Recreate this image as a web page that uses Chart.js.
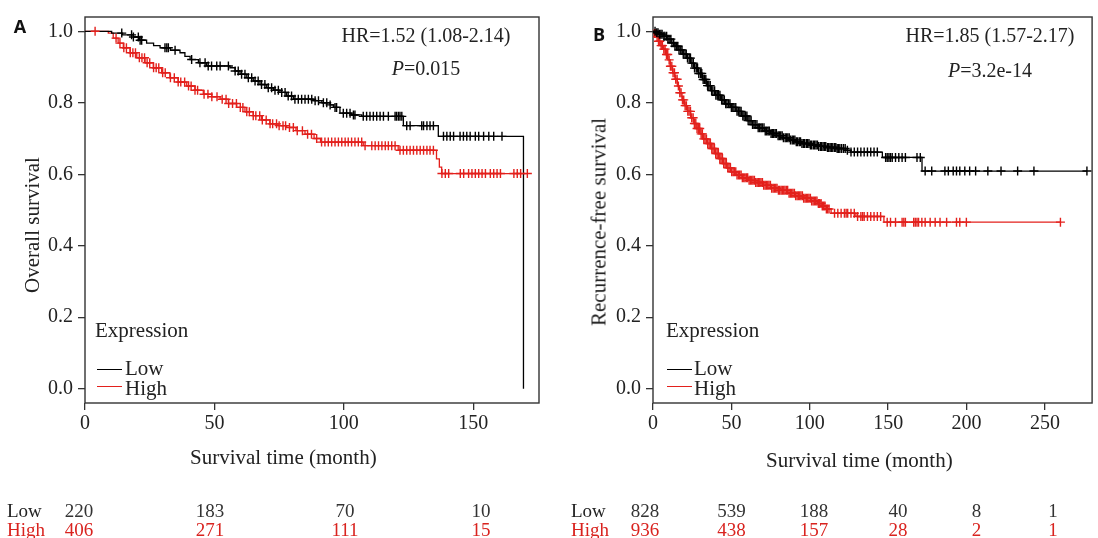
<!DOCTYPE html>
<html lang="en">
<head>
<meta charset="UTF-8">
<title>Kaplan-Meier curves</title>
<script src="https://cdn.jsdelivr.net/npm/chart.js"></script>
<style>
  body { margin: 0; background: #fff; }
  .wrap { position: relative; width: 1098px; height: 538px; overflow: hidden;
          font-family: 'Liberation Serif', 'Times New Roman', serif; color: #222; }
  canvas { position: absolute; top: 0; }
  #chartA { left: 0; }
  #chartB { left: 549px; }
  .t { position: absolute; white-space: nowrap; line-height: 1; font-size: 20px; }
  .mid { transform: translate(-50%, -50%); }
  .left { transform: translateY(-50%); }
  .panel { font-family: 'Open Sans', sans-serif; font-weight: 700; font-size: 18px; color: #111; }
  .ytitle { font-size: 21px; transform: translate(-50%, -50%) rotate(-90deg); }
  .big { font-size: 21px; }
  .risk { font-size: 19px; }
  .riskNum { font-size: 19px; color: #333; }
  .red { color: #d9231f; }
  .lg { position: absolute; height: 0; width: 25px; border-top: 1.3px solid #000; }
</style>
</head>
<body>
<div class="wrap" id="wrap">
  <canvas id="chartA" width="549" height="538"></canvas>
  <canvas id="chartB" width="549" height="538"></canvas>
</div>
<script>
  const yTicks = [0, 0.2, 0.4, 0.6, 0.8, 1.0];
  const xTicksA = [0, 50, 100, 150];
  const xTicksB = [0, 50, 100, 150, 200, 250];

  // A: overall survival, step times (month) and survival after each step
  const lowATime = [0, 10.3, 14.5, 18.7, 21, 23.8, 26.5, 29, 33, 36.7, 38.6, 40.6, 43.8, 47, 56, 58, 59.9, 62.5, 65, 67.6, 70.2, 72.8, 75.3, 77.9, 80.5, 88.2, 91.5, 94.7, 96, 98.5, 103, 106.9, 123, 136.5, 169.4];
  const lowASurv = [1, 0.995, 0.99, 0.984, 0.975, 0.967, 0.96, 0.954, 0.947, 0.94, 0.93, 0.921, 0.912, 0.903, 0.898, 0.889, 0.88, 0.87, 0.861, 0.851, 0.842, 0.835, 0.829, 0.819, 0.81, 0.806, 0.8, 0.794, 0.787, 0.771, 0.766, 0.762, 0.736, 0.706, 0];
  const highATime = [0, 9, 10.9, 12.8, 14.8, 17.4, 20, 23.2, 26.4, 29.6, 32.8, 36, 39.3, 42.5, 45.7, 49, 52.2, 55.4, 58.6, 61.8, 65, 68.2, 71.4, 74.6, 77.9, 81.5, 85, 88.5, 91, 107.5, 121, 135.8, 136.9, 137.8, 170.9];
  const highASurv = [1, 0.995, 0.981, 0.967, 0.954, 0.94, 0.926, 0.912, 0.898, 0.884, 0.87, 0.858, 0.847, 0.835, 0.824, 0.817, 0.81, 0.798, 0.787, 0.775, 0.764, 0.752, 0.741, 0.736, 0.731, 0.722, 0.712, 0.7, 0.69, 0.68, 0.667, 0.643, 0.62, 0.602, 0.602];
  const lowACensor = [14.2, 18, 18.7, 20.6, 21.3, 21.9, 30.9, 31.6, 32.2, 34.8, 41.2, 44.4, 46.4, 47.6, 48.9, 50.9, 52.2, 55.4, 58, 59.2, 60.5, 61.8, 63.1, 64.4, 65.7, 66.9, 68.2, 69.5, 70.8, 72.1, 73.4, 74.7, 76, 77.3, 78.5, 79.8, 81.1, 82.4, 83.7, 85, 86.3, 87.6, 88.9, 90.2, 92.1, 93.4, 94.7, 96.6, 97.2, 99.8, 101.1, 102.4, 103.7, 104.3, 107.5, 108.8, 110.1, 111.4, 112.7, 114, 115.3, 117.2, 119.8, 120.4, 121.1, 121.7, 122.4, 124.3, 125.6, 130.1, 130.8, 132.1, 133.3, 134.6, 138.5, 139.8, 141.1, 142.4, 144.9, 146.2, 147.5, 148.8, 150.8, 152.1, 154, 156, 157.9, 161.1];
  const highACensor = [3.9, 12, 13.5, 15, 16, 17.5, 18.5, 19.5, 21, 22, 23, 24, 25, 26.5, 27.5, 28.5, 30, 31, 33, 34.5, 36, 37, 38.5, 40, 41, 42.5, 43.5, 46, 47.5, 49, 51, 53, 54.5, 55.5, 57, 58.5, 60, 61, 62.5, 63.5, 65, 66, 67.5, 68.5, 70, 71.5, 72.5, 74, 75, 76.5, 77.5, 79, 80.5, 82, 84, 86, 87.5, 89.5, 91.4, 92.7, 94, 95.3, 96.6, 97.9, 99.2, 100.5, 101.7, 103, 104.3, 105.6, 106.9, 108.2, 110.8, 112.1, 113.4, 114.7, 116, 117.2, 118.5, 119.8, 121.7, 123, 124.3, 125.6, 126.9, 128.2, 129.5, 130.8, 132.1, 133.3, 134.6, 137.9, 139.2, 140.5, 145, 146.3, 148.2, 149.5, 150.8, 152.1, 153.4, 154.7, 156.6, 157.9, 159.2, 160.5, 165.7, 167, 168.3, 170.9];

  // B: recurrence-free survival
  const lowBTime = [0, 1.5, 4, 6.5, 9, 11.5, 14, 16.5, 19, 21.5, 24, 26.5, 29, 31.5, 34, 37, 40, 43, 46, 49.5, 53, 56.5, 60, 63.5, 67, 71, 75, 79, 83, 87, 91, 95, 100, 105, 111, 117, 123, 126, 146.3, 171.6, 276.8];
  const lowBSurv = [1, 0.996, 0.992, 0.986, 0.978, 0.968, 0.958, 0.948, 0.936, 0.925, 0.911, 0.897, 0.882, 0.865, 0.848, 0.834, 0.821, 0.808, 0.797, 0.787, 0.776, 0.763, 0.75, 0.739, 0.73, 0.721, 0.714, 0.708, 0.702, 0.696, 0.691, 0.686, 0.682, 0.678, 0.675, 0.672, 0.667, 0.662, 0.647, 0.609, 0.609];
  const highBTime = [0, 0.8, 2, 3.5, 5, 6.5, 8, 9.5, 11, 12.5, 14, 15.5, 17, 18.5, 20, 22, 24, 26, 28, 30, 32, 34.5, 37, 39.5, 42, 44.5, 47, 50, 53, 57, 61, 65, 70, 75, 80, 86, 91, 96, 101, 105, 108, 110.5, 113.6, 129.4, 147.3, 259.9];
  const highBSurv = [1, 0.994, 0.985, 0.972, 0.96, 0.95, 0.935, 0.92, 0.902, 0.884, 0.866, 0.847, 0.828, 0.808, 0.792, 0.776, 0.758, 0.742, 0.728, 0.713, 0.699, 0.686, 0.672, 0.658, 0.644, 0.63, 0.618, 0.607, 0.598, 0.59, 0.583, 0.577, 0.569, 0.561, 0.555, 0.547, 0.54, 0.533, 0.525, 0.518, 0.511, 0.503, 0.491, 0.482, 0.466, 0.466];
  const lowBCensor = [1.3, 2.4, 3.2, 4.1, 5, 5.8, 6.9, 7.6, 8.7, 9.5, 10.3, 11.4, 12.1, 13.2, 14, 14.9, 15.8, 16.6, 17.7, 18.5, 19.3, 20.4, 21.2, 22, 23.1, 23.9, 24.8, 25.7, 26.5, 27.6, 28.4, 29.2, 30.3, 31.1, 32, 32.9, 33.7, 34.8, 35.6, 36.5, 37.4, 38.2, 39.3, 40.1, 41, 41.9, 42.7, 43.8, 44.6, 45.5, 46.4, 47.2, 48.3, 49.1, 50, 50.9, 51.7, 52.8, 53.6, 54.5, 55.4, 56.2, 57.3, 58.1, 59, 59.9, 60.7, 61.8, 62.6, 63.5, 64.4, 65.2, 66.3, 67.1, 68, 68.9, 69.7, 70.8, 71.6, 72.5, 73.4, 74.2, 75.3, 76.1, 77, 77.9, 78.7, 79.8, 80.6, 81.5, 82.4, 83.2, 84.3, 85.1, 86, 86.9, 87.7, 88.8, 89.6, 90.5, 91.4, 92.2, 93.3, 94.1, 95, 95.9, 96.7, 97.8, 98.6, 99.5, 100.4, 101.2, 102.3, 103.1, 104, 104.9, 105.7, 106.8, 107.6, 108.5, 109.4, 110.2, 111.3, 112.1, 113, 113.9, 114.7, 115.8, 116.6, 117.5, 118.4, 119.2, 120.3, 121.5, 122.6, 124, 126.3, 128.4, 130.5, 132.6, 134.7, 136.8, 138.9, 141, 143.1, 148.4, 149.4, 150.5, 151.5, 152.6, 154.7, 156.8, 158.9, 161, 168.4, 170.5, 173.6, 177.8, 186.2, 188.4, 191.5, 193.6, 195.7, 198.9, 202, 205.8, 213.6, 222, 232.6, 243, 276.8];
  const highBCensor = [0.9, 1.8, 2.6, 3.5, 4.3, 5.2, 6, 6.9, 7.7, 8.6, 9.4, 10.3, 11.1, 12, 12.8, 13.7, 14.5, 15.4, 16.2, 17.1, 17.9, 18.8, 19.6, 20.5, 21.3, 22.2, 23, 23.9, 24.7, 25.6, 26.4, 27.3, 28.1, 29, 29.8, 30.7, 31.5, 32.4, 33.2, 34.1, 34.9, 35.8, 36.6, 37.5, 38.3, 39.2, 40, 40.9, 41.7, 42.6, 43.4, 44.3, 45.1, 46, 46.8, 47.7, 48.5, 49.4, 50.2, 51.1, 51.9, 52.8, 53.6, 54.5, 55.3, 56.2, 57, 57.9, 58.7, 59.6, 60.4, 61.3, 62.1, 63, 63.8, 64.7, 65.5, 66.4, 67.2, 68.1, 68.9, 69.8, 70.6, 71.5, 72.3, 73.2, 74, 74.9, 75.7, 76.6, 77.4, 78.3, 79.1, 80, 80.8, 81.7, 82.5, 83.4, 84.2, 85.1, 85.9, 86.8, 87.6, 88.5, 89.3, 90.2, 91, 91.9, 92.7, 93.6, 94.4, 95.3, 96.1, 97, 97.8, 98.7, 99.5, 100.4, 101.2, 102.1, 102.9, 103.8, 104.6, 105.5, 106.3, 107.2, 108, 108.9, 109.7, 110.6, 111.4, 112.3, 115.8, 117.9, 120, 122.1, 123.2, 124.2, 126.3, 128.4, 130.5, 132.6, 133.7, 134.7, 136.8, 138.9, 141, 143.1, 145.2, 149.4, 151.5, 154.7, 158.9, 160, 161, 166.3, 167.3, 168.4, 169.4, 171.5, 173.6, 176.8, 180, 183.1, 187.3, 193.6, 195.7, 199.9, 259.9];

  // numbers at risk
  const riskALow = [220, 183, 70, 10];
  const riskAHigh = [406, 271, 111, 15];
  const riskBLow = [828, 539, 188, 40, 8, 1];
  const riskBHigh = [936, 438, 157, 28, 2, 1];

  const black = '#000';
  const red = '#e3201c';
  const axisColor = '#333';
  const tickFont = { family: 'Liberation Serif', size: 20 };

  function survAt(times, surv, t) {
    let s = surv[0];
    for (let i = 0; i < times.length; i++) if (times[i] <= t) s = surv[i];
    return s;
  }

  function curve(times, surv, color) {
    return {
      type: 'line', data: times.map((t, i) => ({ x: t, y: surv[i] })),
      stepped: true, borderColor: color, borderWidth: 1.3, pointRadius: 0, fill: false
    };
  }

  function censor(cens, times, surv, color) {
    return {
      type: 'scatter', data: cens.map(t => ({ x: t, y: survAt(times, surv, t) })),
      pointStyle: 'cross', pointRadius: 4.5, pointHoverRadius: 4.5,
      borderColor: color, borderWidth: 1.4, showLine: false
    };
  }

  const boxPlugin = {
    id: 'box',
    beforeDatasetsDraw(chart) {
      const { ctx, chartArea: a } = chart;
      ctx.save();
      ctx.strokeStyle = axisColor;
      ctx.lineWidth = 1.4;
      ctx.strokeRect(a.left, a.top, a.right - a.left, a.bottom - a.top);
      ctx.restore();
    }
  };

  function kmChart(id, c) {
    return new Chart(document.getElementById(id), {
      type: 'line',
      data: {
        datasets: [
          censor(c.lowC, c.lowT, c.lowS, black),
          censor(c.highC, c.highT, c.highS, red),
          curve(c.lowT, c.lowS, black),
          curve(c.highT, c.highS, red)
        ]
      },
      options: {
        responsive: false,
        animation: false,
        layout: { padding: { left: 0, right: c.padRight, top: 13, bottom: 100 } },
        plugins: { legend: { display: false }, tooltip: { enabled: false } },
        scales: {
          x: {
            type: 'linear', min: 0, max: c.xMax,
            afterBuildTicks: s => { s.ticks = c.xTicks.map(v => ({ value: v })); },
            afterFit: s => { s.height = 35; },
            grid: { drawOnChartArea: false, tickLength: 7, color: axisColor, lineWidth: 1.3 },
            border: { display: false },
            ticks: { autoSkip: false, maxRotation: 0, padding: 2, color: '#222', font: tickFont }
          },
          y: {
            type: 'linear', min: -0.04, max: 1.04,
            afterBuildTicks: s => { s.ticks = yTicks.map(v => ({ value: v })); },
            afterFit: s => { s.width = c.yWidth; },
            grid: { drawOnChartArea: false, tickLength: 7, color: axisColor, lineWidth: 1.3 },
            border: { display: false },
            ticks: { callback: v => v.toFixed(1), padding: 5, color: '#222', font: tickFont }
          }
        }
      },
      plugins: [boxPlugin]
    });
  }

  kmChart('chartA', {
    lowT: lowATime, lowS: lowASurv, highT: highATime, highS: highASurv,
    lowC: lowACensor, highC: highACensor,
    xTicks: xTicksA, xMax: 175.4, yWidth: 85, padRight: 10
  });
  kmChart('chartB', {
    lowT: lowBTime, lowS: lowBSurv, highT: highBTime, highS: highBSurv,
    lowC: lowBCensor, highC: highBCensor,
    xTicks: xTicksB, xMax: 280.1, yWidth: 104, padRight: 1
  });

  // text overlays
  const wrap = document.getElementById('wrap');
  function put(html, x, y, cls) {
    const d = document.createElement('div');
    d.className = 't ' + cls;
    d.innerHTML = html;
    d.style.left = x + 'px';
    d.style.top = y + 'px';
    wrap.appendChild(d);
  }
  function legendLine(x, y, color) {
    const d = document.createElement('div');
    d.className = 'lg';
    d.style.left = x + 'px';
    d.style.top = y + 'px';
    d.style.borderTopColor = color;
    wrap.appendChild(d);
  }

  put('A', 20, 26, 'panel mid');
  put('B', 599, 34, 'panel mid');
  put('HR=1.52 (1.08-2.14)', 426, 35, 'mid');
  put('<i>P</i>=0.015', 426, 68, 'mid');
  put('HR=1.85 (1.57-2.17)', 990, 35, 'mid');
  put('<i>P</i>=3.2e-14', 990, 70, 'mid');
  put('Overall survival', 31.5, 225, 'ytitle');
  put('Recurrence-free survival', 599, 222, 'ytitle');
  put('Survival time (month)', 190, 457, 'big left');
  put('Survival time (month)', 766, 460, 'big left');

  // legends
  put('Expression', 95, 330, 'big left');
  legendLine(97, 369, black);
  put('Low', 125, 368, 'big left');
  legendLine(97, 386, red);
  put('High', 125, 388, 'big left');
  put('Expression', 666, 330, 'big left');
  legendLine(667, 369, black);
  put('Low', 694, 368, 'big left');
  legendLine(667, 386, red);
  put('High', 694, 388, 'big left');

  // numbers at risk
  const riskAX = [79, 210, 345, 481];
  const riskBX = [645, 731.5, 814, 898, 976.5, 1053];
  put('Low', 7, 510, 'risk left');
  put('High', 7, 529, 'risk left red');
  put('Low', 571, 510, 'risk left');
  put('High', 571, 529, 'risk left red');
  riskALow.forEach((v, i) => put(v, riskAX[i], 510, 'riskNum mid'));
  riskAHigh.forEach((v, i) => put(v, riskAX[i], 529, 'riskNum mid red'));
  riskBLow.forEach((v, i) => put(v, riskBX[i], 510, 'riskNum mid'));
  riskBHigh.forEach((v, i) => put(v, riskBX[i], 529, 'riskNum mid red'));
</script>
</body>
</html>
